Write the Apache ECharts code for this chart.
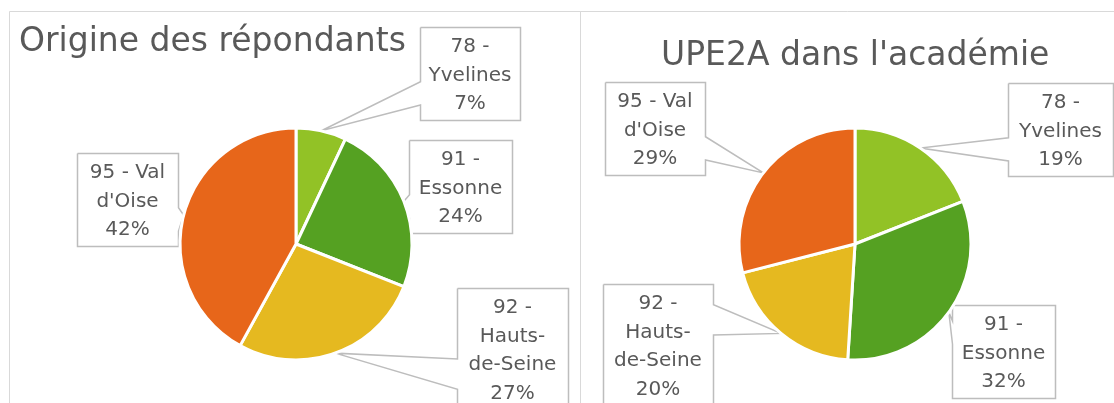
<!DOCTYPE html>
<html>
<head>
<meta charset="utf-8">
<script src="https://cdn.jsdelivr.net/npm/echarts@6/dist/echarts.min.js"></script>
<style>
  html, body { margin: 0; padding: 0; background: #ffffff; }
  #chart { width: 1114px; height: 403px; }
</style>
</head>
<body>
<div id="chart"></div>
<script>
// Départements, dans l'ordre des secteurs (sens horaire à partir de midi)
const departements = ['78 - Yvelines', '91 - Essonne', '92 - Hauts-de-Seine', "95 - Val d'Oise"];
// Nom des départements tel qu'il est coupé dans les encadrés
const libellesEncadres = ['78 -\nYvelines', '91 -\nEssonne', '92 -\nHauts-\nde-Seine', "95 - Val\nd'Oise"];
// Part (%) des répondants par département
const partsRepondants = [7, 24, 27, 42];
// Part (%) des UPE2A de l'académie par département
const partsUpe2a = [19, 32, 20, 29];
const titres = ['Origine des répondants', "UPE2A dans l'académie"];

// Styles
const couleurs = ['#92C226', '#55A122', '#E5B920', '#E7661A'];
const GRIS_TEXTE = '#595959';
const GRIS_TRAIT = '#BDBDBD';
const POLICE = 'DejaVu Sans';
const HAUTEUR_LIGNE = 28.5;
const MARGE_HAUT = 6;
const MARGE_BAS = 1;

// Encadrés des étiquettes : [centre x, haut, largeur], un par département
const encadresRepondants = [[470, 27, 100], [460.5, 140, 103], [512.5, 288, 111], [127.5, 153, 101]];
const encadresUpe2a = [[1060.5, 83, 105], [1003.5, 305, 103], [658, 284, 110], [655, 82, 100]];

// Contour d'une bulle rectangulaire dont la pointe rejoint le secteur
function contourBulle(l, t, w, h, pointe) {
  const r = l + w, b = t + h;
  const dx = pointe[0] - (l + w / 2);
  const dy = pointe[1] - (t + h / 2);
  const vertical = Math.abs(dy) - Math.abs(dx * h / w) > 0;
  const x1 = l + w * (dx > 0 ? 7 : 2) / 12, x2 = l + w * (dx > 0 ? 10 : 5) / 12;
  const y1 = t + h * (dy > 0 ? 7 : 2) / 12, y2 = t + h * (dy > 0 ? 10 : 5) / 12;
  const dedans = pointe[0] > l && pointe[0] < r && pointe[1] > t && pointe[1] < b;
  const pts = [[l, t]];
  if (!dedans && vertical && dy < 0) pts.push([x1, t], pointe, [x2, t]);
  pts.push([r, t]);
  if (!dedans && !vertical && dx > 0) pts.push([r, y1], pointe, [r, y2]);
  pts.push([r, b]);
  if (!dedans && vertical && dy > 0) pts.push([x2, b], pointe, [x1, b]);
  pts.push([l, b]);
  if (!dedans && !vertical && dx < 0) pts.push([l, y2], pointe, [l, y1]);
  pts.push([l, t]);
  return pts;
}

function placementEtiquettes(encadres) {
  return function (params) {
    const e = encadres[params.dataIndex];
    const nbLignes = libellesEncadres[params.dataIndex].split('\n').length + 1;
    const h = Math.round(nbLignes * HAUTEUR_LIGNE + MARGE_HAUT + MARGE_BAS);
    const w = Math.round(e[2]);
    const l = Math.round(e[0] - e[2] / 2) + 0.5;
    const t = Math.round(e[1]) + 0.5;
    const res = { x: e[0], y: e[1] + MARGE_HAUT, align: 'center', verticalAlign: 'top' };
    const lp = params.labelLinePoints;
    if (lp && lp.length) res.labelLinePoints = contourBulle(l, t, w, h, [lp[0][0], lp[0][1]]);
    return res;
  };
}

function seriesCamembert(valeurs, centre, encadres) {
  return {
    type: 'pie',
    center: centre,
    radius: 116,
    startAngle: 90,
    clockwise: true,
    avoidLabelOverlap: false,
    animation: false,
    silent: true,
    itemStyle: { borderColor: '#ffffff', borderWidth: 3 },
    label: {
      show: true,
      position: 'outside',
      formatter: p => libellesEncadres[p.dataIndex] + '\n' + p.value + '%',
      color: GRIS_TEXTE,
      fontFamily: POLICE,
      fontSize: 20,
      lineHeight: HAUTEUR_LIGNE,
      width: 130,
      overflow: 'none'
    },
    labelLine: { show: true, smooth: false, lineStyle: { color: GRIS_TRAIT, width: 1.5 } },
    labelLayout: placementEtiquettes(encadres),
    data: departements.map((nom, i) => ({ name: nom, value: valeurs[i], itemStyle: { color: couleurs[i] } }))
  };
}

const chart = echarts.init(document.getElementById('chart'), null, { renderer: 'canvas' });
const styleTitre = { fontFamily: POLICE, fontSize: 33, fontWeight: 'normal', color: GRIS_TEXTE };
chart.setOption({
  backgroundColor: '#ffffff',
  animation: false,
  title: [
    { text: titres[0], left: 19, top: 26, padding: 0, textStyle: styleTitre },
    { text: titres[1], left: 661, top: 40, padding: 0, textStyle: styleTitre }
  ],
  graphic: [
    { type: 'rect', silent: true, z: -1, shape: { x: 9.5, y: 11.5, width: 571, height: 500 },
      style: { fill: 'none', stroke: '#D9D9D9', lineWidth: 1 } },
    { type: 'rect', silent: true, z: -1, shape: { x: 580.5, y: 11.5, width: 600, height: 500 },
      style: { fill: 'none', stroke: '#D9D9D9', lineWidth: 1 } }
  ],
  series: [
    seriesCamembert(partsRepondants, [296, 244], encadresRepondants),
    seriesCamembert(partsUpe2a, [855, 244], encadresUpe2a)
  ]
});
</script>
</body>
</html>
